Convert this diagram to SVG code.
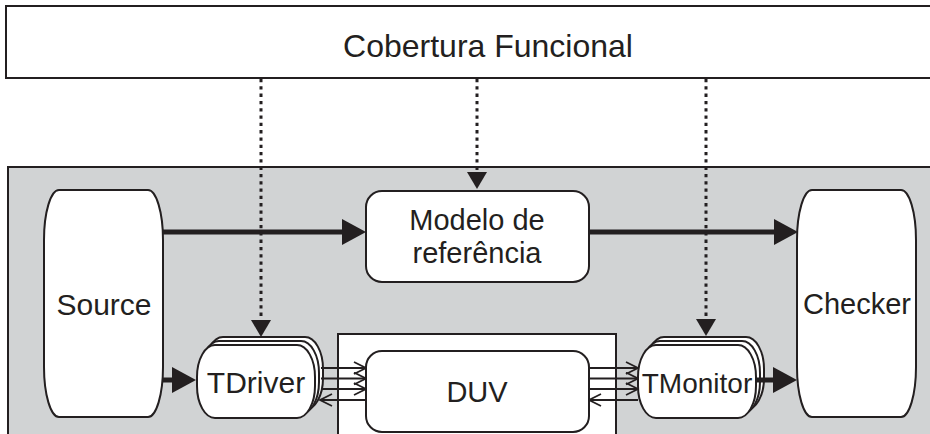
<svg xmlns="http://www.w3.org/2000/svg" width="930" height="434" viewBox="0 0 930 434">
  <style>
    .frame { stroke: #231f20; stroke-width: 2; }
    .node { fill: #ffffff; stroke: #231f20; stroke-width: 2; }
    .label { font-family: "Liberation Sans", Arial, Helvetica, sans-serif; font-size: 29px; fill: #231f20; text-anchor: middle; }
    .title { font-size: 32px; }
    .flow { stroke: #231f20; stroke-width: 5; fill: none; }
    .cover { stroke: #231f20; stroke-width: 3; stroke-dasharray: 3.3 4; fill: none; }
    .bus { stroke: #231f20; stroke-width: 1.8; fill: none; }
  </style>
  <defs>
    <marker id="thick-head" viewBox="0 0 24 26" refX="4" refY="13" markerWidth="24" markerHeight="26" markerUnits="userSpaceOnUse" orient="auto">
      <path d="M0,0 L24,13 L0,26 z" fill="#231f20"/>
    </marker>
    <marker id="dot-head" viewBox="0 0 17 20" refX="1" refY="10" markerWidth="17" markerHeight="20" markerUnits="userSpaceOnUse" orient="auto">
      <path d="M0,0 L17,10 L0,20 z" fill="#231f20"/>
    </marker>
    <marker id="open-head" viewBox="0 0 14 14" refX="13" refY="7" markerWidth="14" markerHeight="14" markerUnits="userSpaceOnUse" orient="auto">
      <path d="M1,1 L13,7 L1,13" fill="none" stroke="#231f20" stroke-width="1.8"/>
    </marker>
    <!-- capsule outline shared by the stacked transactor nodes -->
    <rect id="capsule" x="0" y="0" width="118" height="73" rx="18" ry="32"/>
  </defs>

  <!-- background frames -->
  <g id="cobertura">
    <rect class="frame" x="6" y="6" width="940" height="72" fill="#ffffff"/>
    <text class="label title" x="488" y="57">Cobertura Funcional</text>
  </g>
  <rect id="testbench" class="frame" x="8" y="167" width="940" height="300" fill="#d1d3d4"/>

  <g id="duv">
    <rect class="frame" x="338" y="334" width="278" height="120" fill="#ffffff"/>
    <rect class="node" x="366" y="351" width="223" height="81" rx="16" ry="16"/>
    <text class="label" x="477" y="402">DUV</text>
  </g>

  <g id="source">
    <rect class="node" x="44" y="190" width="119" height="227" rx="15" ry="50"/>
    <text class="label" x="104" y="315" style="font-size:30px">Source</text>
  </g>

  <g id="checker">
    <rect class="node" x="797" y="190" width="119" height="227" rx="15" ry="50"/>
    <text class="label" x="857" y="314">Checker</text>
  </g>

  <g id="modelo">
    <rect class="node" x="366" y="191" width="223" height="91" rx="16" ry="16"/>
    <text class="label" x="477" y="230">Modelo de</text>
    <text class="label" x="477" y="263">referência</text>
  </g>

  <g id="tdriver">
    <use href="#capsule" class="node" x="205" y="337"/>
    <use href="#capsule" class="node" x="201" y="341"/>
    <use href="#capsule" class="node" x="197" y="345"/>
    <text class="label" x="256" y="393" style="font-size:30px">TDriver</text>
  </g>

  <g id="tmonitor">
    <use href="#capsule" class="node" x="646" y="337"/>
    <use href="#capsule" class="node" x="642" y="341"/>
    <use href="#capsule" class="node" x="638" y="345"/>
    <text class="label" x="697" y="393" style="font-size:28px">TMonitor</text>
  </g>

  <g id="connectors">
    <!-- data flow -->
    <line class="flow" x1="163" y1="232" x2="346" y2="232" marker-end="url(#thick-head)"/>
    <line class="flow" x1="589" y1="232" x2="778" y2="232" marker-end="url(#thick-head)"/>
    <line class="flow" x1="163" y1="380" x2="176" y2="380" marker-end="url(#thick-head)"/>
    <line class="flow" x1="756" y1="380" x2="777" y2="380" marker-end="url(#thick-head)"/>

    <!-- coverage sampling -->
    <line class="cover" x1="261" y1="79" x2="261" y2="321" marker-end="url(#dot-head)"/>
    <line class="cover" x1="477" y1="79" x2="477" y2="173" marker-end="url(#dot-head)"/>
    <line class="cover" x1="706" y1="79" x2="706" y2="320" marker-end="url(#dot-head)"/>

    <!-- pin-level buses: TDriver to DUV -->
    <line class="bus" x1="321" y1="368" x2="366" y2="368" marker-end="url(#open-head)"/>
    <line class="bus" x1="321" y1="378.5" x2="366" y2="378.5" marker-end="url(#open-head)"/>
    <line class="bus" x1="321" y1="389" x2="366" y2="389" marker-end="url(#open-head)"/>
    <line class="bus" x1="366" y1="400" x2="320" y2="400" marker-end="url(#open-head)"/>

    <!-- pin-level buses: DUV to TMonitor -->
    <line class="bus" x1="589" y1="368" x2="638" y2="368" marker-end="url(#open-head)"/>
    <line class="bus" x1="589" y1="378.5" x2="638" y2="378.5" marker-end="url(#open-head)"/>
    <line class="bus" x1="589" y1="389" x2="638" y2="389" marker-end="url(#open-head)"/>
    <line class="bus" x1="638" y1="400" x2="589" y2="400" marker-end="url(#open-head)"/>
  </g>
</svg>
